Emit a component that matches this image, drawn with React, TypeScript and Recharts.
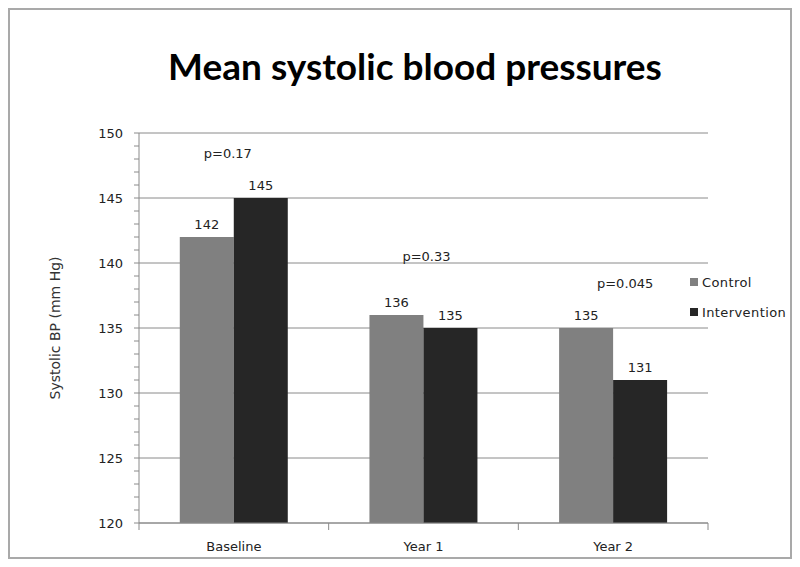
import { BarChart, Bar, XAxis, YAxis, CartesianGrid, LabelList, Label, Legend, ReferenceDot } from 'recharts'

const periods = ['Baseline', 'Year 1', 'Year 2']
const controlBP = [142, 136, 135]
const interventionBP = [145, 135, 131]
const pValues = ['p=0.17', 'p=0.33', 'p=0.045']
const pValueHeights = [148.4, 140.5, 138.4]
const yMajorTicks = [120, 125, 130, 135, 140, 145, 150]
const yMinorTicks = Array.from({ length: 31 }, (_, i) => 120 + i)

const seriesNames = { control: 'Control', intervention: 'Intervention' }
const cores = { control: '#808080', intervention: '#262626', eixo: '#8a8a8a', texto: '#222' }
const fonte = '"DejaVu Sans", Verdana, sans-serif'
const pDx = [-6, 3, 12]

const dados = periods.map((period, i) => ({
  period,
  control: controlBP[i],
  intervention: interventionBP[i],
}))

function CategoryTick(props: any) {
  const { x, y, payload, index } = props
  const larguraEixo = typeof props.width === 'number' ? props.width : 569
  const half = larguraEixo / periods.length / 2
  return (
    <g>
      <line x1={x - half} y1={y} x2={x - half} y2={y + 7} stroke={cores.eixo} />
      {index === periods.length - 1 && (
        <line x1={x + half} y1={y} x2={x + half} y2={y + 7} stroke={cores.eixo} />
      )}
      <text x={x} y={y + 23} textAnchor="middle" dominantBaseline="central" fontSize={13} fill={cores.texto} fontFamily={fonte}>
        {payload.value}
      </text>
    </g>
  )
}

function LegendaBox() {
  const itens = [
    { nome: seriesNames.control, cor: cores.control },
    { nome: seriesNames.intervention, cor: cores.intervention },
  ]
  return (
    <div style={{ fontFamily: fonte, fontSize: 13, color: cores.texto, letterSpacing: 0.4 }}>
      {itens.map(item => (
        <div key={item.nome} style={{ height: 30, display: 'flex', alignItems: 'center' }}>
          <span style={{ width: 8, height: 8, background: item.cor, display: 'inline-block', marginRight: 4 }} />
          <span>{item.nome}</span>
        </div>
      ))}
    </div>
  )
}

function RotuloY({ viewBox }: any) {
  const cx = (viewBox?.x ?? 0) + 45
  const cy = (viewBox?.y ?? 123) + (viewBox?.height ?? 390) / 2
  return (
    <text x={cx} y={cy} transform={`rotate(-90 ${cx} ${cy})`} textAnchor="middle" dominantBaseline="central"
      fontSize={14} fill="#333" fontFamily={fonte}>
      Systolic BP (mm Hg)
    </text>
  )
}

export default function App() {
  return (
    <div style={{ position: 'relative', width: 784, height: 551, border: '2px solid #a9a9a9', boxSizing: 'border-box', background: '#fff' }}>
      <div style={{
        position: 'absolute', left: 30, width: 750, top: 37, textAlign: 'center',
        fontFamily: 'Lato, "Open Sans", sans-serif', fontWeight: 700, fontSize: 37, lineHeight: '37px', color: '#000',
      }}>
        Mean systolic blood pressures
      </div>
      <BarChart
        width={780}
        height={547}
        data={dados}
        margin={{ top: 123, right: 82, left: 0, bottom: 0 }}
        barCategoryGap="21.5%"
        barGap={0}
      >
        <CartesianGrid vertical={false} horizontalValues={yMajorTicks} stroke={cores.eixo} />
        <XAxis dataKey="period" height={34} tickLine={false} tickSize={0} tickMargin={0}
          axisLine={{ stroke: cores.eixo }} tick={<CategoryTick />} interval={0} />
        <YAxis width={129} domain={[120, 150]} ticks={yMinorTicks} interval={0}
          tickFormatter={(v: number) => (v % 5 === 0 ? String(v) : '')}
          tickSize={5} tickMargin={11}
          tick={{ fontSize: 13, fill: cores.texto, fontFamily: fonte }}
          axisLine={{ stroke: cores.eixo }} tickLine={{ stroke: cores.eixo }}>
          <Label content={<RotuloY />} />
        </YAxis>
        <Bar dataKey="control" name={seriesNames.control} fill={cores.control} isAnimationActive={false}>
          <LabelList dataKey="control" position="top" offset={8} fontSize={13} fill={cores.texto} fontFamily={fonte} />
        </Bar>
        <Bar dataKey="intervention" name={seriesNames.intervention} fill={cores.intervention} isAnimationActive={false}>
          <LabelList dataKey="intervention" position="top" offset={8} fontSize={13} fill={cores.texto} fontFamily={fonte} />
        </Bar>
        {periods.map((p, i) => (
          <ReferenceDot key={p} x={p} y={pValueHeights[i]} r={0} stroke="none" fill="none"
            label={{ value: pValues[i], position: 'center', dx: pDx[i], fontSize: 13, fill: cores.texto, fontFamily: fonte }} />
        ))}
        <Legend layout="horizontal" verticalAlign="middle" align="center" content={<LegendaBox />}
          wrapperStyle={{ left: 680, top: 257, width: 'auto' }} />
      </BarChart>
    </div>
  )
}
